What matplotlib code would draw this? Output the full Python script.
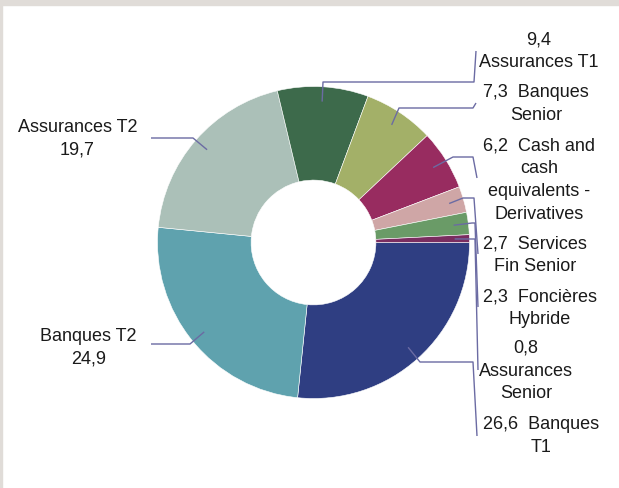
import matplotlib
matplotlib.use("Agg")
import matplotlib.pyplot as plt
from matplotlib.patches import Rectangle
import numpy as np

# ---- data ----
categories = ["Banques T1", "Banques T2", "Assurances T2", "Assurances T1",
              "Banques Senior", "Cash and cash equivalents - Derivatives",
              "Services Fin Senior", "Foncières Hybride", "Assurances Senior"]
values = [26.6, 24.9, 19.7, 9.4, 7.3, 6.2, 2.7, 2.3, 0.8]
label_texts = ["26,6  Banques\nT1", "Banques T2\n24,9", "Assurances T2\n19,7",
               "9,4\nAssurances T1", "7,3  Banques\nSenior",
               "6,2  Cash and\ncash\nequivalents -\nDerivatives",
               "2,7  Services\nFin Senior", "2,3  Foncières\nHybride",
               "0,8\nAssurances\nSenior"]
colors = ["#2f3e82", "#5fa2ae", "#abc0b8", "#3d6a4b", "#a3b068",
          "#982c60", "#cfa6a6", "#6a9b67", "#7a2d60"]

# ---- layout (pixel space, y up) ----
W, H = 619, 488
cx, cy = 313.5, H - 242.5
R = 156.0
hole = 62.4

# label anchor (x, y_from_top, ha) and leader elbow points (pixel, from top)
label_pos = [
    (483, 436, "left"), (137, 347.5, "right"), (137, 138.5, "right"),
    (479, 51, "left"), (483, 104, "left"), (483, 180, "left"),
    (483, 255, "left"), (483, 308, "left"), (479, 371, "left"),
]
elbows = [
    [(420, 362), (473, 362), (477, 436)],
    [(190, 344), (151, 344)],
    [(193, 138), (151, 138)],
    [(323, 82), (474, 82), (476, 51)],
    [(399, 108), (473, 108), (476, 103)],
    [(453, 157), (473, 157), (477, 178)],
    [(463, 198), (474, 198), (478, 254)],
    [(472, 223), (475, 223), (478, 307)],
    [(472, 239), (475, 239), (478, 370)],
]

plt.rcParams['font.family'] = ['Liberation Sans', 'DejaVu Sans']
fig = plt.figure(figsize=(W / 100, H / 100), dpi=100)
fig.patch.set_facecolor("white")
ax = fig.add_axes([0, 0, 1, 1])

wedges, _ = ax.pie(values, colors=colors, startangle=0, counterclock=False,
                   radius=R, center=(cx, cy),
                   wedgeprops=dict(width=R - hole, edgecolor="white", linewidth=0.4))
ax.set_xlim(0, W)
ax.set_ylim(0, H)
ax.set_aspect("equal")
ax.axis("off")

total = float(sum(values))
cum = 0.0
line_col = "#6b6ba3"
for i, v in enumerate(values):
    mid = -(cum + v / 2.0) / total * 360.0
    cum += v
    sx = cx + 0.905 * R * np.cos(np.radians(mid))
    sy = cy + 0.905 * R * np.sin(np.radians(mid))
    xs = [sx] + [p[0] for p in elbows[i]]
    ys = [sy] + [H - p[1] for p in elbows[i]]
    ax.plot(xs, ys, color=line_col, lw=1.0, solid_capstyle="butt")
    lx, ly, ha = label_pos[i]
    ax.text(lx, H - ly, label_texts[i], ha=ha, va="center", multialignment="center",
            fontsize=13, color="#1a1a1a", linespacing=1.45)

# frame strips
fig.patches.append(Rectangle((0, 1 - 4.5 / H), 1, 4.5 / H, transform=fig.transFigure,
                             color="#e0dcd8", zorder=10))
fig.patches.append(Rectangle((0, 0), 2.0 / W, 1, transform=fig.transFigure,
                             color="#e0dcd8", zorder=10))

fig.savefig("out.png", dpi=100)
